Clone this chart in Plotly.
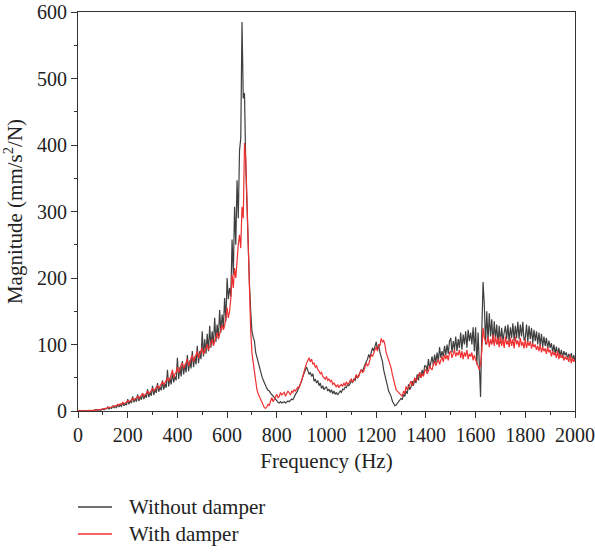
import plotly.graph_objects as go

freq_step_hz = 5

without_damper = [
    0, 0, 1, 0, 1, 0, 0, 1, 0, 1, 1, 0, 1, 1, 2, 1, 1, 2, 1, 2,
    3, 2, 4, 3, 6, 3, 5, 4, 8, 5, 7, 5, 10, 6, 9, 7, 13, 8, 11, 9,
    18, 10, 15, 12, 22, 13, 19, 14, 25, 15, 22, 17, 27, 18, 24, 20, 33, 21, 28, 23,
    38, 24, 33, 27, 42, 29, 36, 31, 46, 32, 41, 35, 62, 37, 50, 40, 58, 43, 52, 46,
    80, 48, 66, 52, 75, 55, 70, 58, 84, 60, 76, 64, 90, 66, 82, 70, 98, 72, 90, 78,
    120, 82, 108, 86, 116, 90, 128, 95, 120, 100, 140, 104, 130, 110, 152, 118, 145, 126, 170, 135,
    200, 168, 185, 172, 258, 205, 307, 250, 347, 290, 392, 410, 585, 470, 478, 370, 300, 240, 190, 150,
    120, 111, 105, 88, 80, 72, 65, 58, 52, 47, 42, 38, 34, 31, 30, 27, 24, 22, 20, 18,
    15, 13, 12, 14, 12, 13, 14, 12, 13, 15, 14, 16, 18, 17, 22, 25, 28, 32, 38, 42,
    45, 52, 58, 62, 66, 60, 55, 58, 52, 56, 45, 48, 42, 46, 38, 42, 34, 38, 32, 35,
    36, 30, 33, 28, 32, 26, 30, 25, 28, 24, 27, 30, 28, 33, 32, 36, 35, 40, 38, 42,
    45, 43, 48, 46, 52, 50, 55, 58, 62, 60, 66, 70, 74, 78, 85, 80, 88, 95, 90, 100,
    104, 92, 100, 88, 82, 75, 62, 52, 45, 38, 30, 27, 22, 15, 12, 8, 9, 12, 14, 16,
    19, 17, 25, 22, 30, 26, 40, 32, 36, 45, 38, 48, 42, 55, 46, 58, 50, 62, 54, 68,
    68, 60, 78, 64, 72, 82, 68, 85, 72, 88, 75, 96, 80, 90, 82, 98, 84, 100, 86, 105,
    110, 88, 105, 92, 112, 90, 108, 95, 118, 92, 115, 100, 120, 95, 122, 105, 118, 100, 126, 90,
    126, 70, 118, 60, 21, 120, 194, 160, 100, 150, 105, 147, 112, 138, 102, 135, 108, 130, 100, 128,
    102, 125, 105, 118, 128, 108, 130, 104, 126, 110, 132, 106, 128, 110, 134, 108, 130, 112, 134, 106,
    110, 130, 104, 128, 108, 125, 102, 122, 105, 120, 100, 118, 98, 116, 96, 112, 98, 110, 94, 106,
    95, 102, 88, 100, 86, 97, 84, 95, 82, 92, 80, 90, 84, 88, 78, 86, 80, 87, 76, 84,
    75,
]

with_damper = [
    0, 1, 0, 1, 0, 1, 1, 0, 1, 1, 1, 0, 1, 1, 2, 1, 2, 2, 2, 3,
    3, 3, 4, 4, 5, 5, 6, 6, 7, 7, 8, 8, 10, 9, 11, 10, 13, 11, 12, 13,
    16, 14, 15, 17, 19, 16, 18, 20, 22, 19, 21, 23, 26, 22, 24, 27, 30, 26, 28, 31,
    34, 30, 32, 36, 38, 34, 37, 40, 44, 39, 42, 47, 50, 45, 48, 55, 62, 50, 56, 58,
    66, 58, 62, 70, 72, 64, 68, 74, 78, 68, 72, 80, 84, 74, 80, 86, 90, 80, 86, 92,
    95, 85, 90, 98, 100, 92, 96, 104, 108, 98, 104, 112, 118, 108, 115, 124, 130, 122, 128, 140,
    155, 140, 150, 170, 205, 185, 215, 200, 230, 250, 265, 245, 307, 290, 403, 380, 317, 250, 177, 120,
    87, 72, 55, 40, 32, 26, 22, 18, 12, 8, 5, 4, 6, 10, 8, 15, 20, 14, 18, 22,
    25, 20, 22, 28, 24, 26, 28, 22, 25, 30, 27, 24, 30, 28, 32, 30, 33, 36, 35, 40,
    45, 52, 60, 68, 72, 76, 80, 74, 78, 70, 72, 66, 68, 62, 60, 56, 58, 52, 50, 48,
    52, 46, 48, 44, 46, 40, 42, 38, 36, 40, 35, 38, 40, 37, 42, 38, 44, 40, 42, 46,
    48, 44, 46, 50, 55, 50, 52, 58, 62, 58, 60, 66, 72, 68, 70, 78, 85, 82, 88, 92,
    96, 90, 100, 98, 109, 104, 106, 100, 88, 82, 77, 70, 65, 55, 47, 40, 32, 30, 28, 25,
    24, 22, 30, 26, 37, 32, 35, 40, 45, 38, 42, 50, 46, 48, 52, 58, 50, 56, 52, 60,
    62, 56, 60, 68, 64, 62, 70, 75, 68, 72, 78, 70, 76, 82, 74, 85, 78, 84, 76, 88,
    90, 80, 86, 92, 82, 88, 84, 92, 80, 90, 78, 88, 82, 92, 78, 86, 82, 88, 76, 84,
    77, 72, 66, 62, 70, 90, 125, 110, 105, 100, 112, 96, 108, 100, 115, 98, 112, 100, 110, 96,
    112, 98, 108, 95, 112, 100, 106, 96, 110, 98, 108, 94, 112, 100, 106, 96, 110, 98, 104, 94,
    108, 95, 104, 98, 105, 94, 102, 96, 100, 92, 98, 90, 100, 88, 96, 90, 94, 86, 96, 88,
    92, 82, 90, 84, 88, 80, 90, 78, 86, 80, 84, 76, 82, 78, 80, 74, 84, 72, 80, 74,
    78,
]

assert len(without_damper) == 401, len(without_damper)
assert len(with_damper) == 401, len(with_damper)
freq = [i * freq_step_hz for i in range(len(without_damper))]

series_names = ["Without damper", "With damper"]
series_colors = ["#3f3f3f", "#f03030"]

FONT = "Liberation Serif"
TXT = "#222222"

fig = go.Figure()
for name, ys, col in zip(series_names, [without_damper, with_damper], series_colors):
    fig.add_trace(go.Scatter(x=freq, y=ys, mode="lines", name=name,
                             line=dict(color=col, width=1.2), showlegend=False))

axis_common = dict(
    showline=True, linecolor="#333333", linewidth=1.2, mirror=True,
    ticks="outside", ticklen=6, tickwidth=1.2, tickcolor="#333333",
    showgrid=False, zeroline=False, automargin=False,
    tickfont=dict(family=FONT, size=20, color=TXT),
)

W, H = 595, 552
ML, MR, MT, MB = 78, 20, 12, 141
plot_w = W - ML - MR
plot_h = H - MT - MB

def px_to_paper_x(px):
    return (px - ML) / plot_w

def px_to_paper_y(py):
    return (H - MB - py) / plot_h

# legend below the plot
legend_rows = [507, 534]
for name, col, py in zip(series_names, series_colors, legend_rows):
    fig.add_shape(type="line", xref="paper", yref="paper",
                  x0=px_to_paper_x(78), x1=px_to_paper_x(112),
                  y0=px_to_paper_y(py), y1=px_to_paper_y(py),
                  line=dict(color=col, width=1.3))
    fig.add_annotation(xref="paper", yref="paper", x=px_to_paper_x(127), y=px_to_paper_y(py),
                       xanchor="left", yanchor="middle", text=name, showarrow=False,
                       font=dict(family=FONT, size=21, color=TXT))

fig.update_layout(
    width=W, height=H,
    margin=dict(l=ML, r=MR, t=MT, b=MB),
    paper_bgcolor="white", plot_bgcolor="white",
    font=dict(family=FONT, size=20, color=TXT),
    xaxis=dict(range=[0, 2000], dtick=200,
               title=dict(text="Frequency (Hz)", standoff=8, font=dict(family=FONT, size=21, color=TXT)),
               minor=dict(ticks="outside", ticklen=3, dtick=100, tickcolor="#333333"),
               **axis_common),
    yaxis=dict(range=[0, 600], dtick=100,
               title=dict(text="Magnitude (mm/s<sup>2</sup>/N)", standoff=8, font=dict(family=FONT, size=21, color=TXT)),
               minor=dict(ticks="outside", ticklen=3, dtick=50, tickcolor="#333333"),
               **axis_common),
    showlegend=False,
)

fig.write_html("out.html")
